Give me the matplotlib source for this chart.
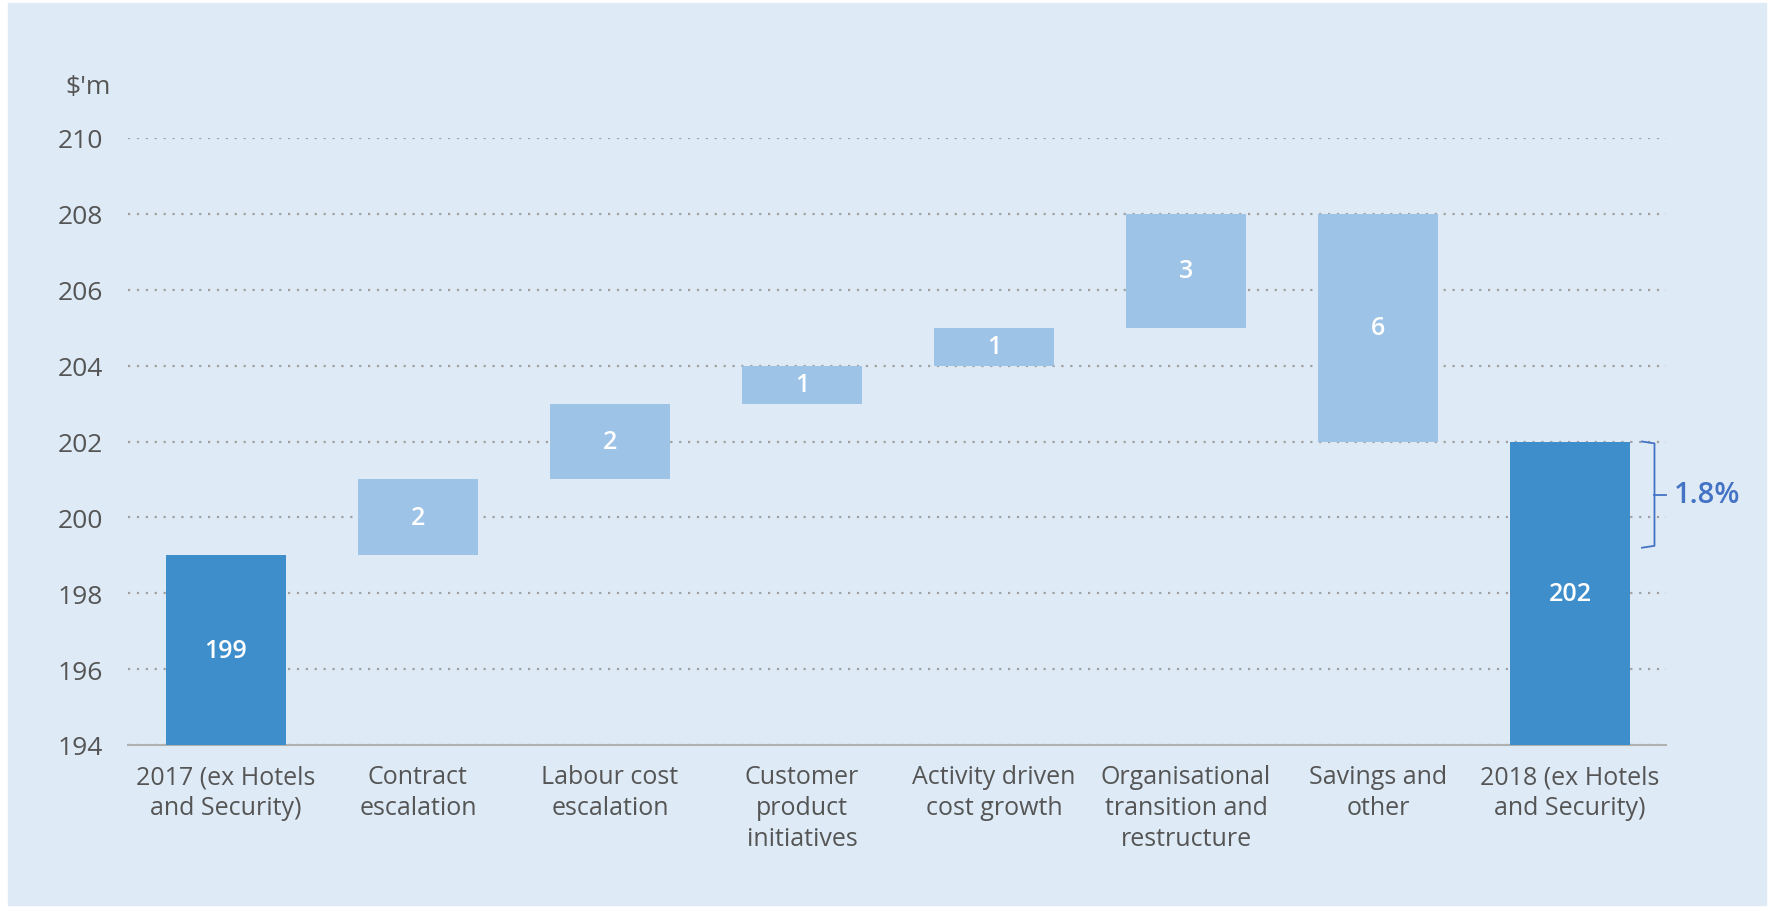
import matplotlib.pyplot as plt
from matplotlib.patches import Rectangle

plt.rcParams['font.family'] = ['Open Sans', 'DejaVu Sans']

# Datos del grafico de cascada
categorias = ['2017 (ex Hotels\nand Security)', 'Contract\nescalation', 'Labour cost\nescalation',
              'Customer\nproduct\ninitiatives', 'Activity driven\ncost growth',
              'Organisational\ntransition and\nrestructure', 'Savings and\nother',
              '2018 (ex Hotels\nand Security)']
bases = [194, 199, 201, 203, 204, 205, 202, 194]
alturas = [5, 2, 2, 1, 1, 3, 6, 8]
etiquetas = ['199', '2', '2', '1', '1', '3', '6', '202']
es_total = [True, False, False, False, False, False, False, True]
ticks_y = [194, 196, 198, 200, 202, 204, 206, 208, 210]

fondo = '#deebf6'
oscuro = '#3f8ecc'
claro = '#9dc3e6'
gris = '#555555'
azul_texto = '#4472c4'

fig = plt.figure(figsize=(17.75, 9.12), dpi=100)
fig.patches.append(Rectangle((8 / 1775, 1 - 906 / 912), 1758 / 1775, 902 / 912,
                             transform=fig.transFigure, color=fondo, zorder=-5))
ax = fig.add_axes([128 / 1775, 1 - 746 / 912, 1538 / 1775, 607 / 912])
ax.set_facecolor(fondo)

x = list(range(len(categorias)))
colores = [oscuro if t else claro for t in es_total]
ax.bar(x, alturas, bottom=bases, width=0.625, color=colores, zorder=3)

# Etiquetas dentro de las barras
for i in x:
    if es_total[i]:
        ypos = 196.5 if i == 0 else 198
    else:
        ypos = bases[i] + alturas[i] / 2
    ax.text(i, ypos, etiquetas[i], ha='center', va='center', color='white',
            fontsize=18, fontweight='semibold', zorder=4)

ax.set_ylim(194, 210)
ax.set_xlim(-0.51, 7.5)
ax.set_yticks(ticks_y)
ax.set_xticks(x)
ax.set_xticklabels(categorias, fontsize=18, color=gris, linespacing=1.3)
ax.tick_params(axis='y', labelsize=19, labelcolor=gris, length=0, pad=18)
ax.tick_params(axis='x', length=0, pad=14)
ax.grid(axis='y', linestyle=(0, (1, 3)), color='#a0a0a0', linewidth=1.6, zorder=1)
ax.set_axisbelow(True)
for lado in ['top', 'right', 'left']:
    ax.spines[lado].set_visible(False)
ax.spines['bottom'].set_color('#b0b0b0')
ax.spines['bottom'].set_linewidth(1.5)

ax.text(-0.6, 211.35, "$'m", ha='right', va='center', fontsize=19, color=gris)

# Llave de crecimiento 1.8%
ax.plot([7.375, 7.44, 7.44, 7.375], [202, 201.95, 199.25, 199.2], color=azul_texto,
        linewidth=1.3, clip_on=False)
ax.plot([7.44, 7.5], [200.6, 200.6], color=azul_texto, linewidth=1.3, clip_on=False)
ax.text(7.54, 200.6, '1.8%', ha='left', va='center', fontsize=21,
        color=azul_texto, fontweight='semibold')

plt.savefig('out.png', dpi=100)
